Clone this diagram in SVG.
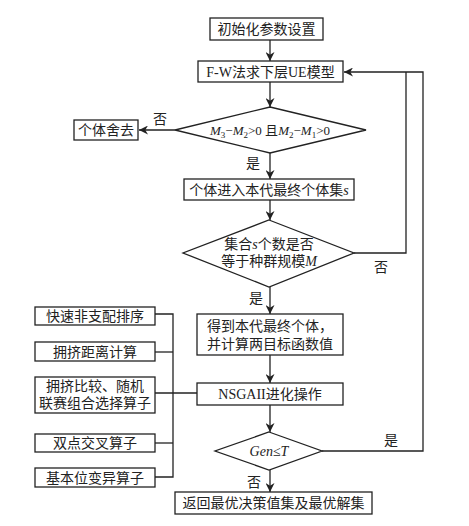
<svg xmlns="http://www.w3.org/2000/svg" width="469" height="526" viewBox="0 0 469 526">
<defs>
<marker id="ah" viewBox="0 0 10 10" refX="10" refY="5" markerWidth="9" markerHeight="9" markerUnits="userSpaceOnUse" orient="auto">
<path d="M0,0 L10,5 L0,10 L3,5 Z" fill="#222"/>
</marker>
</defs>
<style>
.b{fill:#fff;stroke:#222;stroke-width:1.3}
.t{font-family:"Liberation Serif","Noto Sans CJK SC",serif;font-size:14px;fill:#222;text-anchor:middle}
.l{font-family:"Liberation Serif","Noto Sans CJK SC",serif;font-size:14px;fill:#222;text-anchor:middle}
.c{fill:none;stroke:#222;stroke-width:1.3}
.i{font-style:italic}
</style>
<rect width="469" height="526" fill="#fff"/>
<g id="connectors">
<line class="c" x1="270" y1="40" x2="270" y2="61" marker-end="url(#ah)"/>
<line class="c" x1="270" y1="82" x2="270" y2="107" marker-end="url(#ah)"/>
<line class="c" x1="175" y1="130" x2="139" y2="130" marker-end="url(#ah)"/>
<line class="c" x1="270" y1="153" x2="270" y2="179" marker-end="url(#ah)"/>
<line class="c" x1="270" y1="200" x2="270" y2="220" marker-end="url(#ah)"/>
<polyline class="c" points="354,253 406,253 406,72"/>
<polyline class="c" points="322,451 423,451 423,72 344,72" marker-end="url(#ah)"/>
<line class="c" x1="270" y1="287" x2="270" y2="314" marker-end="url(#ah)"/>
<line class="c" x1="270" y1="355" x2="270" y2="383" marker-end="url(#ah)"/>
<line class="c" x1="270" y1="405" x2="270" y2="432" marker-end="url(#ah)"/>
<line class="c" x1="270" y1="470" x2="270" y2="492" marker-end="url(#ah)"/>
<polyline class="c" points="155,314 173,314 173,477 155,477"/>
<line class="c" x1="155" y1="352" x2="173" y2="352"/>
<line class="c" x1="155" y1="393" x2="197" y2="393"/>
<line class="c" x1="155" y1="443" x2="173" y2="443"/>
<text class="l" x="160" y="124">否</text>
<text class="l" x="253" y="168">是</text>
<text class="l" x="381" y="272">否</text>
<text class="l" x="256" y="303">是</text>
<text class="l" x="391" y="445">是</text>
<text class="l" x="254" y="487">否</text>
</g>
<g id="n1"><rect class="b" x="210" y="18" width="113" height="22"/><text class="t" x="266.5" y="34">初始化参数设置</text></g>
<g id="n2"><rect class="b" x="198" y="61" width="145" height="21"/><text class="t" x="270.5" y="76.5">F-W法求下层UE模型</text></g>
<g id="n3"><polygon class="b" points="270,107 366,130 270,153 175,130"/><text class="t" x="270" y="135" style="font-size:13px"><tspan class="i">M</tspan><tspan font-size="9" dy="3">3</tspan><tspan dy="-3">−</tspan><tspan class="i">M</tspan><tspan font-size="9" dy="3">2</tspan><tspan dy="-3">&gt;0 且</tspan><tspan class="i">M</tspan><tspan font-size="9" dy="3">2</tspan><tspan dy="-3">−</tspan><tspan class="i">M</tspan><tspan font-size="9" dy="3">1</tspan><tspan dy="-3">&gt;0</tspan></text></g>
<g id="n4"><rect class="b" x="74" y="120" width="64" height="20"/><text class="t" x="106" y="135">个体舍去</text></g>
<g id="n5"><rect class="b" x="184" y="179" width="170" height="21"/><text class="t" x="269" y="195">个体进入本代最终个体集<tspan class="i">s</tspan></text></g>
<g id="n6"><polygon class="b" points="269,220 354,253 269,287 183,253"/><text class="t" x="269" y="249">集合<tspan class="i">s</tspan>个数是否</text><text class="t" x="269" y="266">等于种群规模<tspan class="i">M</tspan></text></g>
<g id="n7"><rect class="b" x="197" y="314" width="146" height="41"/><text class="t" x="270" y="331">得到本代最终个体，</text><text class="t" x="270" y="349">并计算两目标函数值</text></g>
<g id="n8"><rect class="b" x="197" y="383" width="146" height="22"/><text class="t" x="270" y="399">NSGAII进化操作</text></g>
<g id="n9"><polygon class="b" points="269,432 322,451 269,470 215,451"/><text class="t" x="269" y="456"><tspan class="i">Gen</tspan>≤<tspan class="i">T</tspan></text></g>
<g id="n10"><rect class="b" x="175" y="492" width="197" height="22"/><text class="t" x="273.5" y="508">返回最优决策值集及最优解集</text></g>
<g id="s1"><rect class="b" x="35" y="307" width="120" height="18"/><text class="t" x="95" y="321">快速非支配排序</text></g>
<g id="s2"><rect class="b" x="35" y="342" width="120" height="19"/><text class="t" x="95" y="356.5">拥挤距离计算</text></g>
<g id="s3"><rect class="b" x="35" y="377" width="120" height="36"/><text class="t" x="95" y="391">拥挤比较、随机</text><text class="t" x="95" y="408">联赛组合选择算子</text></g>
<g id="s4"><rect class="b" x="35" y="434" width="120" height="18"/><text class="t" x="95" y="448">双点交叉算子</text></g>
<g id="s5"><rect class="b" x="35" y="468" width="120" height="19"/><text class="t" x="95" y="482.5">基本位变异算子</text></g>
</svg>
